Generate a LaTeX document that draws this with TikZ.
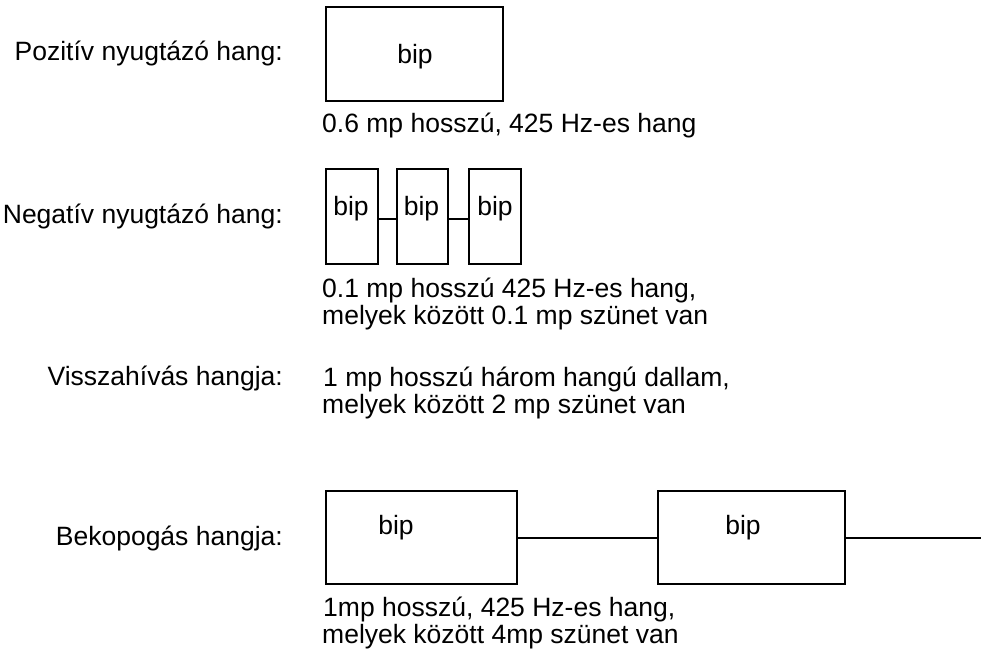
\documentclass[tikz,border=0pt]{standalone}
\usepackage{fontspec}
\setmainfont{Liberation Sans}
\begin{document}
\begin{tikzpicture}[x=1pt,y=-1pt,
  every node/.style={inner sep=0pt,font=\fontsize{26.5}{28}\selectfont},
  tone/.style={draw,line width=2pt,inner sep=0pt},
  lbl/.style={anchor=base east},
  txt/.style={anchor=base west},
  bipt/.style={anchor=base},
  link/.style={line width=2pt}]
\useasboundingbox (0,0) rectangle (981,655);
% Positive
\node[lbl] (lpos) at (283,61) {Pozitív nyugtázó hang:};
\node[tone,minimum width=177pt,minimum height=94pt] (p1) at (414.5,54) {};
\node[bipt] (p1t) at (415,64) {bip};
\node[txt] (tpos) at (322,133) {0.6 mp hosszú, 425 Hz-es hang};
% Negative
\node[lbl] (lneg) at (283,223) {Negatív nyugtázó hang:};
\node[tone,minimum width=52pt,minimum height=95pt] (n1) at (352,216.5) {};
\node[tone,minimum width=51pt,minimum height=95pt] (n2) at (422.5,216.5) {};
\node[tone,minimum width=52pt,minimum height=95pt] (n3) at (495,216.5) {};
\node[bipt] (n1t) at (351,215) {bip};
\node[bipt] (n2t) at (421.5,215) {bip};
\node[bipt] (n3t) at (495,215) {bip};
\coordinate (nl) at (0,219);
\draw[link] (n1.east |- nl) -- (n2.west |- nl);
\draw[link] (n2.east |- nl) -- (n3.west |- nl);
\node[txt] (tneg1) at (322,297) {0.1 mp hosszú 425 Hz-es hang,};
\node[txt] (tneg2) at (322,324) {melyek között 0.1 mp szünet van};
% Recall
\node[lbl] (lvis) at (283,385) {Visszahívás hangja:};
\node[txt] (tvis1) at (323,386) {1 mp hosszú három hangú dallam,};
\node[txt] (tvis2) at (322,413) {melyek között 2 mp szünet van};
% Knock
\node[lbl] (lbek) at (283,545) {Bekopogás hangja:};
\node[tone,minimum width=191pt,minimum height=93pt] (b1) at (421.5,537.5) {};
\node[tone,minimum width=187pt,minimum height=93pt] (b2) at (751.5,537.5) {};
\node[bipt] (b1t) at (396,534) {bip};
\node[bipt] (b2t) at (743,534) {bip};
\coordinate (bend) at (981,537.5);
\draw[link] (b1.east) -- (b2.west);
\draw[link] (b2.east) -- (bend);
\node[txt] (tbek1) at (323,616) {1mp hosszú, 425 Hz-es hang,};
\node[txt] (tbek2) at (322,643) {melyek között 4mp szünet van};
\end{tikzpicture}
\end{document}
